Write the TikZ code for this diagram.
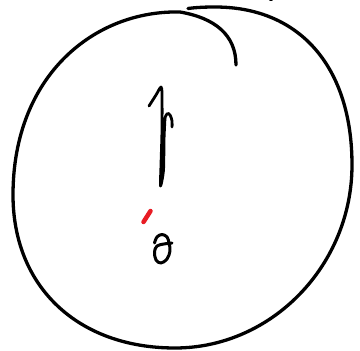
\documentclass[tikz,border=0pt]{standalone}
\definecolor{inkred}{RGB}{232,28,36}
\tikzset{ink/.style={line width=3.3pt,line cap=round,line join=round}}
\begin{document}
\begin{tikzpicture}[x=1pt,y=-1pt]
\useasboundingbox (0,0) rectangle (360,351);
% main circle, drawn clockwise, overshooting into a hook at the top
\draw[ink] (188,8.5) .. controls (197,7.3) and (206,7) .. (215,7)
 .. controls (300,7) and (352,67) .. (352,165)
 .. controls (352,265) and (272,348) .. (175,348)
 .. controls (78,348) and (13,287) .. (13,195)
 .. controls (13,75) and (95,10) .. (180,12)
 .. controls (215,18) and (236,35) .. (236,65);
% tiny mark at the top edge
\draw[line width=1.5pt,line cap=round] (270,0.5) -- (272,0.5);
% the "f"-like glyph
\draw[line width=2.8pt,line cap=round,line join=round]
 plot[smooth,tension=0.5] coordinates {(149,106) (156,95) (161,87) (162,95)
 (162,130) (161,165) (160.5,186) (163.5,170) (164,140) (165,118)};
\draw[line width=2.8pt,line cap=round] plot[smooth,tension=0.7] coordinates {
 (164,120) (167,114) (170,115) (172,121) (172,127)};
% red stroke
\draw[inkred,line width=4.5pt,line cap=round] (143.5,222) -- (150.5,211);
% the loop glyph
\draw[line width=3pt,line cap=round,line join=round]
 plot[smooth,tension=0.6] coordinates {(154.5,243) (157,237) (162,234.5)
 (167,237) (169,243) (170,251) (167,259) (161,263) (156,260) (154.5,252)
 (157,246) (164,244) (172,243)};
\end{tikzpicture}
\end{document}
